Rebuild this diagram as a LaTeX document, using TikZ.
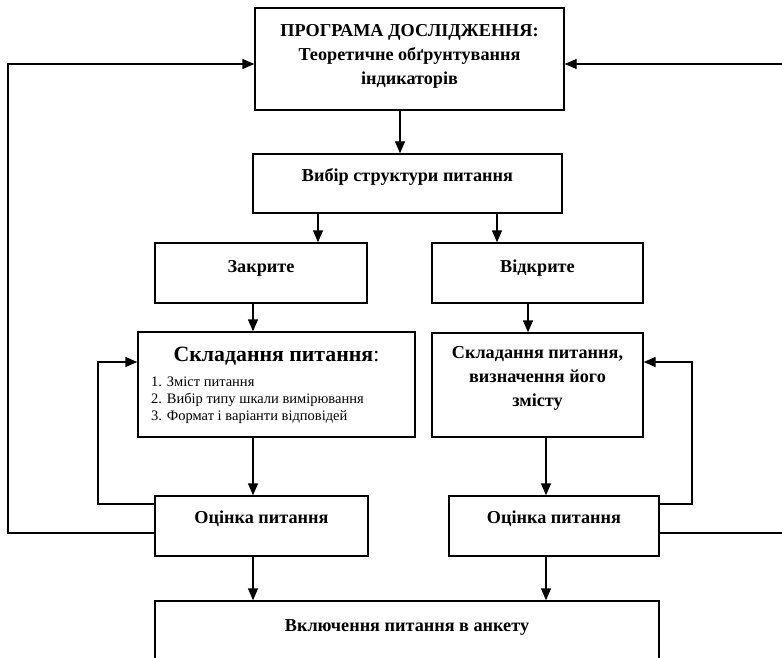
\documentclass[tikz,border=0pt]{standalone}
\usepackage{fontspec}
\setmainfont{Liberation Serif}
\usetikzlibrary{arrows.meta}
\begin{document}
\begin{tikzpicture}[x=1pt,y=-1pt,
  box/.style={draw,line width=1.4pt,rectangle,inner sep=0pt},
  arr/.style={line width=1.4pt,-{Triangle[length=12pt,width=10pt]}},
  btxt/.style={font=\fontsize{18.2}{24}\selectfont\bfseries,align=center,inner sep=0pt},
  stxt/.style={font=\fontsize{14.5}{17.5}\selectfont,align=left,inner sep=0pt}]
\useasboundingbox (0,0) rectangle (782,658);
\clip (0,0) rectangle (782,658);
% boxes
\node[box,minimum width=309pt,minimum height=102pt] (top) at (409.5,59) {};
\node[box,minimum width=309pt,minimum height=59pt] (vyb) at (407.5,183.5) {};
\node[box,minimum width=212pt,minimum height=60pt] (zak) at (261,273) {};
\node[box,minimum width=211pt,minimum height=60pt] (vid) at (537.5,273) {};
\node[box,minimum width=277pt,minimum height=105pt] (sklL) at (276.5,384.5) {};
\node[box,minimum width=211pt,minimum height=104pt] (sklR) at (537.5,385) {};
\node[box,minimum width=213pt,minimum height=60pt] (ocL) at (261.5,526) {};
\node[box,minimum width=210pt,minimum height=60pt] (ocR) at (554,526) {};
\node[box,minimum width=504pt,minimum height=80pt] (fin) at (407,641) {};
% texts
\node[btxt] (topT) at (409.5,56) {ПРОГРАМА ДОСЛІДЖЕННЯ:\\Теоретичне обґрунтування\\індикаторів};
\node[btxt] (vybT) at (407.5,177) {Вибір структури питання};
\node[btxt] (zakT) at (261,268) {Закрите};
\node[btxt] (vidT) at (537.5,268) {Відкрите};
\node[font=\fontsize{21.8}{26}\selectfont,inner sep=0pt] (sklLT) at (276.5,356) {\textbf{Складання питання}:};
\node[stxt,anchor=west] (l1) at (151,382) {1. Зміст питання};
\node[stxt,anchor=west] (l2) at (151,399.5) {2. Вибір типу шкали вимірювання};
\node[stxt,anchor=west] (l3) at (151,417) {3. Формат і варіанти відповідей};
\node[btxt] (sklRT) at (537.5,378) {Складання питання,\\визначення його\\змісту};
\node[btxt] (ocLT) at (261.5,519) {Оцінка питання};
\node[btxt] (ocRT) at (554,519) {Оцінка питання};
\node[btxt] (finT) at (407,628) {Включення питання в анкету};
% helper coordinates
\coordinate (x400) at (400,0);
\coordinate (x318) at (318,0);
\coordinate (x497) at (497,0);
\coordinate (x253) at (253,0);
\coordinate (x528) at (528,0);
\coordinate (x546) at (546,0);
\coordinate (y64) at (0,64);
\coordinate (y362) at (0,362);
\coordinate (y504) at (0,504);
\coordinate (y533) at (0,533);
\coordinate (oL) at (8,533);
\coordinate (oLt) at (8,64);
\coordinate (oR) at (800,533);
\coordinate (oRt) at (800,64);
\coordinate (iL) at (98,504);
\coordinate (iLt) at (98,362);
\coordinate (iR) at (692,504);
\coordinate (iRt) at (692,362);
% straight arrows
\draw[arr] (top.south -| x400) -- (vyb.north -| x400);
\draw[arr] (vyb.south -| x318) -- (zak.north -| x318);
\draw[arr] (vyb.south -| x497) -- (vid.north -| x497);
\draw[arr] (zak.south -| x253) -- (sklL.north -| x253);
\draw[arr] (vid.south -| x528) -- (sklR.north -| x528);
\draw[arr] (sklL.south -| x253) -- (ocL.north -| x253);
\draw[arr] (sklR.south -| x546) -- (ocR.north -| x546);
\draw[arr] (ocL.south -| x253) -- (fin.north -| x253);
\draw[arr] (ocR.south -| x546) -- (fin.north -| x546);
% feedback loops
\draw[arr] (ocL.west |- y504) -- (iL) -- (iLt) -- (sklL.west |- y362);
\draw[arr] (ocR.east |- y504) -- (iR) -- (iRt) -- (sklR.east |- y362);
\draw[arr] (ocL.west |- y533) -- (oL) -- (oLt) -- (top.west |- y64);
\draw[arr] (ocR.east |- y533) -- (oR) -- (oRt) -- (top.east |- y64);
\end{tikzpicture}
\end{document}
